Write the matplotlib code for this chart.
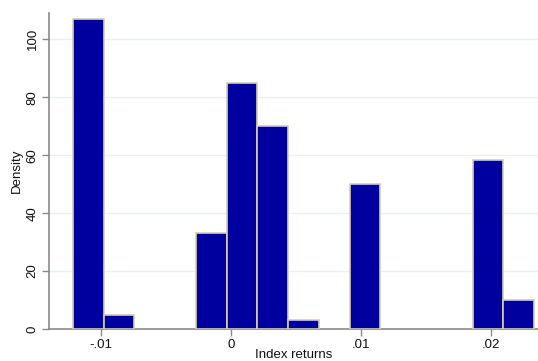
import numpy as np
import matplotlib
matplotlib.use("Agg")
import matplotlib.pyplot as plt

plt.rcParams['font.family'] = ['Liberation Sans', 'DejaVu Sans']

# Histogram of index returns (density scale)
bin_start = -0.01219
bin_width = 0.002369
densities = [107, 4.8, 0, 0, 33.2, 84.9, 70, 3.1, 0, 50, 0, 0, 0, 58.3, 10]
x_ticks = [-0.01, 0, 0.01, 0.02]
x_tick_labels = ['-.01', '0', '.01', '.02']
y_ticks = [0, 20, 40, 60, 80, 100]

dens = np.array(densities, dtype=float)
edges = bin_start + bin_width * np.arange(len(dens))
filled = dens > 0

W, H = 538, 361
fig = plt.figure(figsize=(W / 100, H / 100), dpi=100)
ax = fig.add_axes([48.5 / W, (H - 329) / H, (538 - 48.5) / W, (329 - 12.7) / H])

ax.bar(edges[filled], dens[filled], width=bin_width, align='edge',
       color='#00009e', edgecolor='#d8cfa6', linewidth=1.2, zorder=3)

ax.set_xlim(-0.01406, 0.02365)
ax.set_ylim(0, 109.2)

ax.set_yticks(y_ticks)
ax.set_yticklabels([str(t) for t in y_ticks], rotation=90, va='center')
ax.set_xticks(x_ticks)
ax.set_xticklabels(x_tick_labels)

ax.grid(axis='y', color='#e8f0f2', linewidth=1, zorder=0)
ax.set_axisbelow(True)

for side in ('top', 'right'):
    ax.spines[side].set_visible(False)
for side in ('left', 'bottom'):
    ax.spines[side].set_color('#8a8a8a')
    ax.spines[side].set_linewidth(1.2)

ax.tick_params(axis='both', colors='#8a8a8a', length=5, width=1, labelcolor='#111111',
               labelsize=9.5, pad=2)
ax.set_ylabel('Density', fontsize=9.5, color='#111111', labelpad=3)
ax.set_xlabel('Index returns', fontsize=9.5, color='#111111', labelpad=-1)

fig.savefig('out.png', dpi=100, facecolor='white')
